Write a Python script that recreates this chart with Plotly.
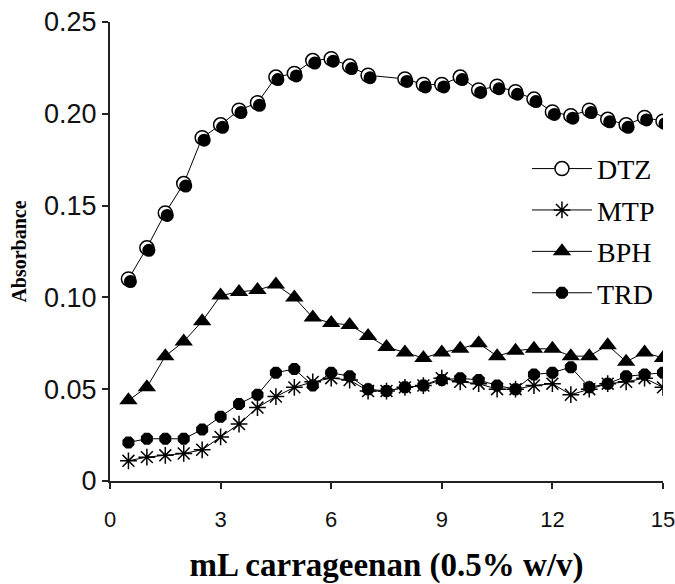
import plotly.graph_objects as go

# mL carrageenan added
x_dtz = [0.5, 1, 1.5, 2, 2.5, 3, 3.5, 4, 4.5, 5, 5.5, 6, 6.5, 7,
         8, 8.5, 9, 9.5, 10, 10.5, 11, 11.5, 12, 12.5, 13, 13.5, 14, 14.5, 15]
x_all = [0.5, 1, 1.5, 2, 2.5, 3, 3.5, 4, 4.5, 5, 5.5, 6, 6.5, 7, 7.5,
         8, 8.5, 9, 9.5, 10, 10.5, 11, 11.5, 12, 12.5, 13, 13.5, 14, 14.5, 15]

# absorbance readings
dtz = [0.110, 0.127, 0.146, 0.162, 0.187, 0.194, 0.202, 0.206, 0.220, 0.222,
       0.229, 0.230, 0.226, 0.221,
       0.219, 0.216, 0.216, 0.220, 0.213, 0.215, 0.212, 0.208, 0.201, 0.199,
       0.202, 0.197, 0.194, 0.198, 0.196]
mtp = [0.011, 0.013, 0.014, 0.015, 0.017, 0.024, 0.031, 0.040, 0.046, 0.051,
       0.054, 0.056, 0.055, 0.049, 0.049, 0.051, 0.052, 0.056, 0.054, 0.053,
       0.050, 0.050, 0.052, 0.053, 0.047, 0.050, 0.053, 0.054, 0.056, 0.051]
bph = [0.044, 0.051, 0.068, 0.076, 0.087, 0.101, 0.103, 0.104, 0.107, 0.100,
       0.089, 0.086, 0.085, 0.079, 0.073, 0.070, 0.067, 0.070, 0.072, 0.075,
       0.068, 0.071, 0.072, 0.072, 0.068, 0.068, 0.074, 0.065, 0.070, 0.067]
trd = [0.021, 0.023, 0.023, 0.023, 0.028, 0.035, 0.042, 0.047, 0.059, 0.061,
       0.052, 0.059, 0.057, 0.050, 0.049, 0.051, 0.052, 0.055, 0.056, 0.055,
       0.052, 0.050, 0.058, 0.059, 0.062, 0.051, 0.053, 0.057, 0.058, 0.059]

y_ticks = [0, 0.05, 0.10, 0.15, 0.20, 0.25]
y_labels = ['0', '0.05', '0.10', '0.15', '0.20', '0.25']
x_ticks = [0, 3, 6, 9, 12, 15]

serif = 'Liberation Serif, Times New Roman, serif'
sans = 'Liberation Sans, Arial, sans-serif'
ln = dict(color='black', width=1)

fig = go.Figure()

# dark shadow under the open DTZ markers (drawn on a slightly shifted overlay axis)
fig.add_trace(go.Scatter(x=x_dtz, y=dtz, mode='markers', showlegend=False, hoverinfo='skip',
                         marker=dict(symbol='circle', size=13, color='black'),
                         xaxis='x2', yaxis='y2'))
fig.add_trace(go.Scatter(x=x_dtz, y=dtz, mode='lines+markers', name='DTZ', legendgroup='a',
                         line=ln, marker=dict(symbol='circle', size=14, color='white',
                                              line=dict(color='black', width=1.5))))
fig.add_trace(go.Scatter(x=x_all, y=mtp, mode='lines+markers', name='MTP', legendgroup='b',
                         line=ln, marker=dict(symbol='asterisk-open', size=14,
                                              line=dict(color='black', width=1.5))))
fig.add_trace(go.Scatter(x=x_all, y=bph, mode='lines+markers', name='BPH', legendgroup='c',
                         line=ln, marker=dict(symbol='triangle-up', size=16, color='black')))
fig.add_trace(go.Scatter(x=x_all, y=trd, mode='lines+markers', name='TRD', legendgroup='d',
                         line=ln, marker=dict(symbol='octagon', size=13, color='black')))

axis_common = dict(showline=True, linecolor='#222', linewidth=2, ticks='outside',
                   ticklen=6, tickwidth=2, tickcolor='#222', showgrid=False,
                   zeroline=False, automargin=False, ticklabeloverflow='allow')

fig.update_layout(
    width=675, height=584,
    margin=dict(l=110, r=12, t=22, b=103),
    plot_bgcolor='white', paper_bgcolor='white',
    xaxis=dict(range=[0, 15], tickvals=x_ticks, **axis_common, ticklabelstandoff=12,
               tickfont=dict(family=sans, size=22, color='#111'),
               title=dict(text='<b>mL carrageenan (0.5% w/v)</b>', standoff=36,
                          font=dict(family=serif, size=33, color='black'))),
    yaxis=dict(range=[0, 0.25], tickvals=y_ticks, ticktext=y_labels, **axis_common,
               tickfont=dict(family=sans, size=27, color='#111'),
               title=dict(text='<b>Absorbance</b>', standoff=12,
                          font=dict(family=serif, size=20, color='black'))),
    xaxis2=dict(range=[-0.054, 14.946], overlaying='x', visible=False),
    yaxis2=dict(range=[0.00136, 0.25136], overlaying='y', visible=False),
    legend=dict(x=0.754, y=0.7345, xanchor='left', yanchor='top', itemwidth=60,
                traceorder='grouped', tracegroupgap=2, bgcolor='rgba(0,0,0,0)',
                font=dict(family=serif, size=28, color='black')),
)

# page without the default body margin, so the 675x584 figure fills the window
fig.write_html('out.html', config={'displayModeBar': False},
               post_script="document.body.style.margin='0';"
               "document.documentElement.style.overflow='hidden';")
